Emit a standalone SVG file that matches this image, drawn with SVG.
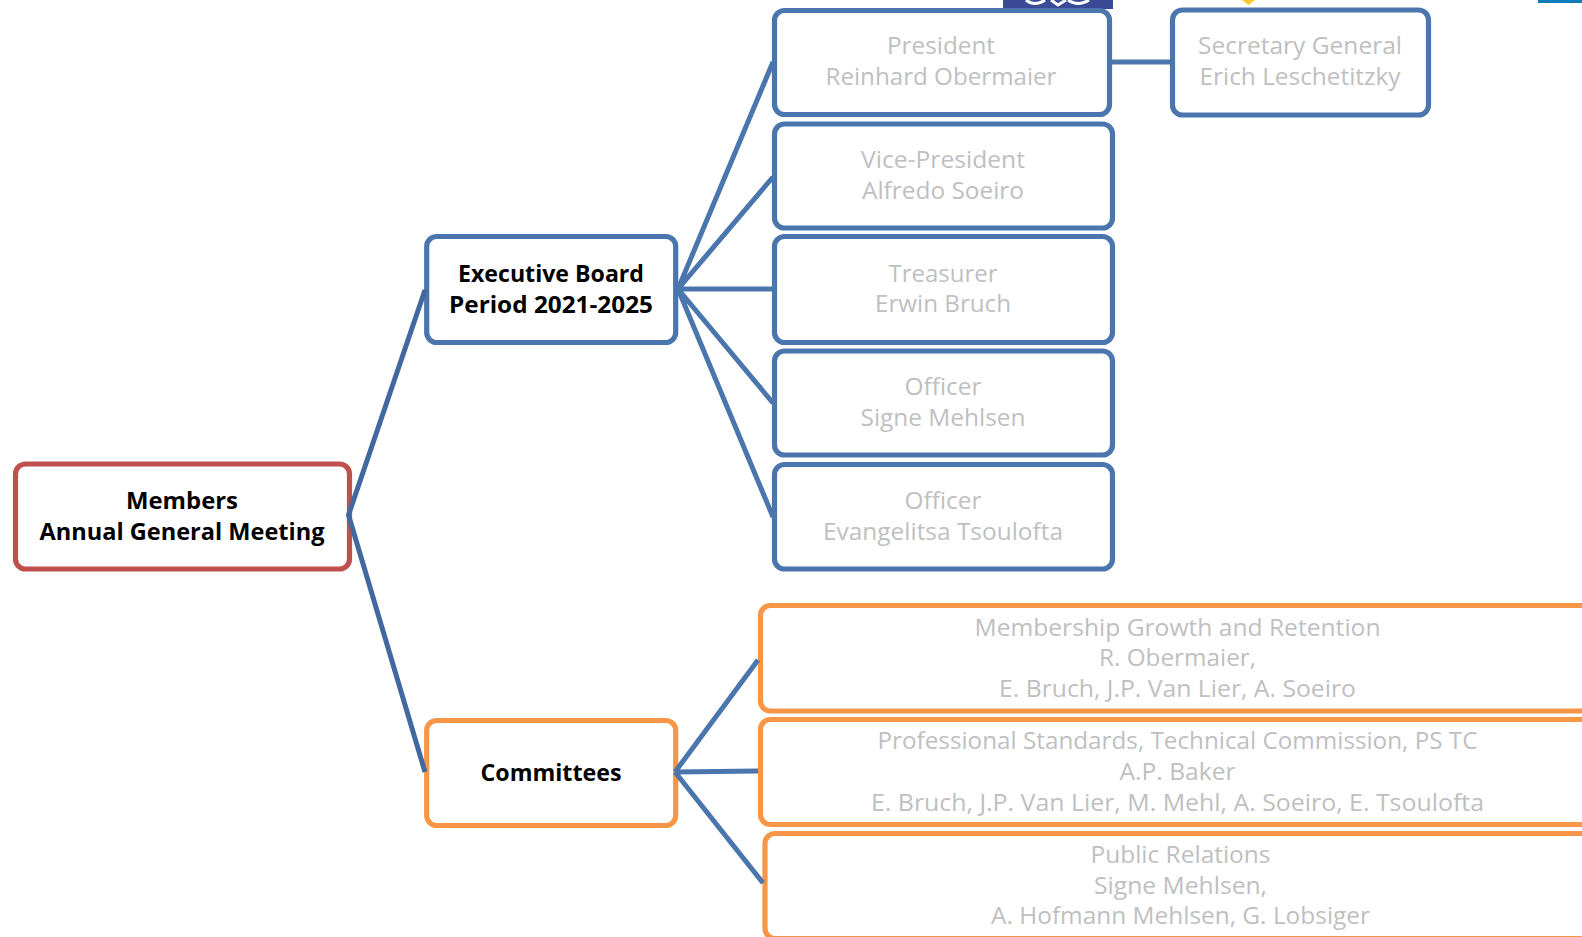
<svg xmlns="http://www.w3.org/2000/svg" width="1582" height="937" viewBox="0 0 1582 937">
<style>
.b{fill:#fff;stroke:#4a76ad;stroke-width:5.2}
.o{fill:#fff;stroke:#f79646;stroke-width:5.2}
.r{fill:#fff;stroke:#c0504d;stroke-width:5.2}
text{font-family:"Open Sans","Noto Sans","Liberation Sans",sans-serif;font-size:24px;text-anchor:middle}
.g{fill:#bfbfbf}
.k{fill:#000;font-weight:700;font-size:23.5px}
.c{fill:none;stroke:#4a76ad;stroke-width:5}
</style>
<rect x="1003" y="0" width="110" height="9" fill="#3a4a96"/>
<path d="M1026 0q9 7 19 0M1051 0l7 5 8-5M1068 0q10 7 21 0" fill="none" stroke="#fff" stroke-width="3"/>
<path d="M1242 0h13l-6.500 5z" fill="#fdc82f"/>
<rect x="1538" y="0" width="44" height="3" fill="#0b7db8"/>
<g id="node-members"><rect class="r" x="15.500" y="464" width="334" height="105" rx="10"/><text class="k" x="182" y="509" textLength="112" lengthAdjust="spacingAndGlyphs">Members</text><text class="k" x="182" y="540" textLength="285" lengthAdjust="spacingAndGlyphs">Annual General Meeting</text></g>
<g id="node-board"><rect class="b" x="426.700" y="236.500" width="249" height="106" rx="10"/><text class="k" x="551" y="282" textLength="186" lengthAdjust="spacingAndGlyphs">Executive Board</text><text class="k" x="551" y="313" textLength="204" lengthAdjust="spacingAndGlyphs">Period 2021-2025</text></g>
<g id="node-committees"><rect class="o" x="426.700" y="720.500" width="249" height="105" rx="10"/><text class="k" x="551" y="781" textLength="141" lengthAdjust="spacingAndGlyphs">Committees</text></g>
<g id="node-president"><rect class="b" x="774.500" y="10.500" width="335" height="104" rx="10"/><text class="g" x="941" y="54" textLength="108" lengthAdjust="spacingAndGlyphs">President</text><text class="g" x="941" y="85" textLength="231" lengthAdjust="spacingAndGlyphs">Reinhard Obermaier</text></g>
<g id="node-secretary"><rect class="b" x="1172.500" y="10" width="256" height="105" rx="10"/><text class="g" x="1300" y="54" textLength="204" lengthAdjust="spacingAndGlyphs">Secretary General</text><text class="g" x="1300" y="85" textLength="201" lengthAdjust="spacingAndGlyphs">Erich Leschetitzky</text></g>
<g id="node-vice"><rect class="b" x="774.500" y="124" width="338" height="104" rx="10"/><text class="g" x="943" y="168" textLength="164" lengthAdjust="spacingAndGlyphs">Vice-President</text><text class="g" x="943" y="199" textLength="162" lengthAdjust="spacingAndGlyphs">Alfredo Soeiro</text></g>
<g id="node-treasurer"><rect class="b" x="774.500" y="236.500" width="338" height="106" rx="10"/><text class="g" x="943" y="282" textLength="109" lengthAdjust="spacingAndGlyphs">Treasurer</text><text class="g" x="943" y="312" textLength="136" lengthAdjust="spacingAndGlyphs">Erwin Bruch</text></g>
<g id="node-officer1"><rect class="b" x="774.500" y="351" width="338" height="104" rx="10"/><text class="g" x="943" y="395" textLength="77" lengthAdjust="spacingAndGlyphs">Officer</text><text class="g" x="943" y="426" textLength="165" lengthAdjust="spacingAndGlyphs">Signe Mehlsen</text></g>
<g id="node-officer2"><rect class="b" x="774.500" y="464.500" width="338" height="104.500" rx="10"/><text class="g" x="943" y="509" textLength="77" lengthAdjust="spacingAndGlyphs">Officer</text><text class="g" x="943" y="540" textLength="240" lengthAdjust="spacingAndGlyphs">Evangelitsa Tsoulofta</text></g>
<g id="node-membership"><rect class="o" x="760.500" y="605.500" width="860" height="105.500" rx="10"/><text class="g" x="1177.500" y="636" textLength="406" lengthAdjust="spacingAndGlyphs">Membership Growth and Retention</text><text class="g" x="1177.500" y="666" textLength="157" lengthAdjust="spacingAndGlyphs">R. Obermaier,</text><text class="g" x="1177.500" y="697" textLength="357" lengthAdjust="spacingAndGlyphs">E. Bruch, J.P. Van Lier, A. Soeiro</text></g>
<g id="node-standards"><rect class="o" x="760.500" y="719.500" width="860" height="105" rx="10"/><text class="g" x="1177.500" y="749" textLength="600" lengthAdjust="spacingAndGlyphs">Professional Standards, Technical Commission, PS TC</text><text class="g" x="1177.500" y="780" textLength="116" lengthAdjust="spacingAndGlyphs">A.P. Baker</text><text class="g" x="1177.500" y="811" textLength="613" lengthAdjust="spacingAndGlyphs">E. Bruch, J.P. Van Lier, M. Mehl, A. Soeiro, E. Tsoulofta</text></g>
<g id="node-relations"><rect class="o" x="765" y="833.500" width="860" height="105" rx="10"/><text class="g" x="1180.500" y="863" textLength="180" lengthAdjust="spacingAndGlyphs">Public Relations</text><text class="g" x="1180.500" y="894" textLength="173" lengthAdjust="spacingAndGlyphs">Signe Mehlsen,</text><text class="g" x="1180.500" y="924" textLength="379" lengthAdjust="spacingAndGlyphs">A. Hofmann Mehlsen, G. Lobsiger</text></g>
<g id="connectors">
<path class="c" style="stroke:#41699f" d="M425 290L348.500 515L425 772"/>
<path class="c" d="M773 62L678 289M773 177L678 289M773 289H678M773 403L678 289M773 517L678 289"/>
<path class="c" d="M1110 62H1170"/>
<path class="c" d="M758 660L675 772M758 771L675 772M763 883L675 772"/>
</g>
</svg>
